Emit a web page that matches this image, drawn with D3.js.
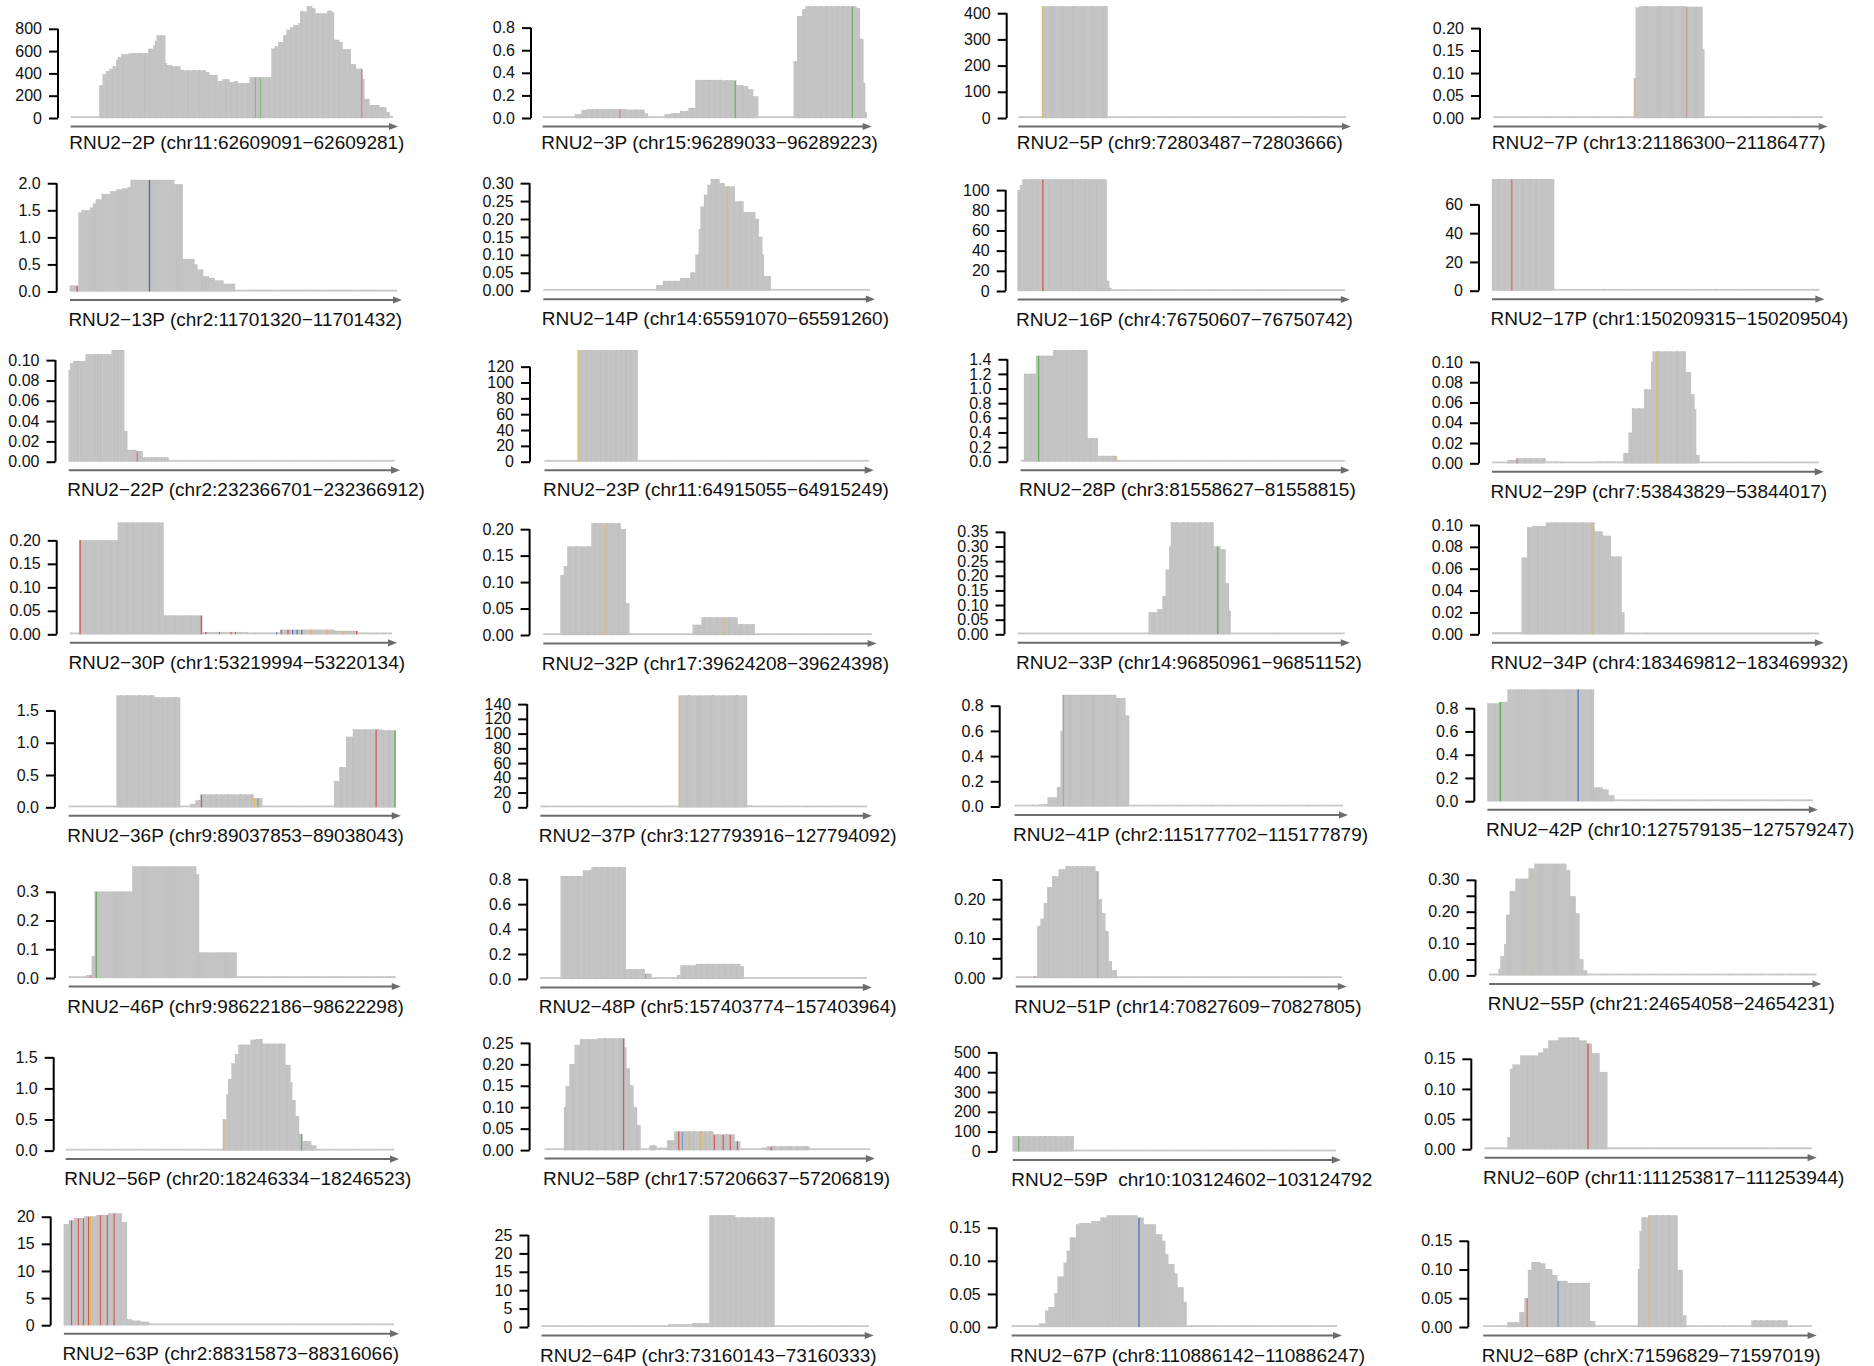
<!DOCTYPE html>
<html>
<head>
<meta charset="utf-8">
<script src="https://cdn.jsdelivr.net/npm/d3@7"></script>
<style>
  body { margin: 0; background: #fff; }
  svg text { font-family: "Liberation Sans", Arial, Helvetica, sans-serif; fill: #111; }
</style>
</head>
<body>
<svg id="chart" width="1874" height="1366"></svg>
<script>
// Read coverage of RNU2 pseudogenes, one small track per locus.

const geneNames = [
  "RNU2-2P", "RNU2-3P", "RNU2-5P", "RNU2-7P",
  "RNU2-13P", "RNU2-14P", "RNU2-16P", "RNU2-17P",
  "RNU2-22P", "RNU2-23P", "RNU2-28P", "RNU2-29P",
  "RNU2-30P", "RNU2-32P", "RNU2-33P", "RNU2-34P",
  "RNU2-36P", "RNU2-37P", "RNU2-41P", "RNU2-42P",
  "RNU2-46P", "RNU2-48P", "RNU2-51P", "RNU2-55P",
  "RNU2-56P", "RNU2-58P", "RNU2-59P", "RNU2-60P",
  "RNU2-63P", "RNU2-64P", "RNU2-67P", "RNU2-68P"
];

const regionLabels = [
  "(chr11:62609091-62609281)", "(chr15:96289033-96289223)", "(chr9:72803487-72803666)", "(chr13:21186300-21186477)",
  "(chr2:11701320-11701432)", "(chr14:65591070-65591260)", "(chr4:76750607-76750742)", "(chr1:150209315-150209504)",
  "(chr2:232366701-232366912)", "(chr11:64915055-64915249)", "(chr3:81558627-81558815)", "(chr7:53843829-53844017)",
  "(chr1:53219994-53220134)", "(chr17:39624208-39624398)", "(chr14:96850961-96851152)", "(chr4:183469812-183469932)",
  "(chr9:89037853-89038043)", "(chr3:127793916-127794092)", "(chr2:115177702-115177879)", "(chr10:127579135-127579247)",
  "(chr9:98622186-98622298)", "(chr5:157403774-157403964)", "(chr14:70827609-70827805)", "(chr21:24654058-24654231)",
  "(chr20:18246334-18246523)", "(chr17:57206637-57206819)", " chr10:103124602-103124792", "(chr11:111253817-111253944)",
  "(chr2:88315873-88316066)", "(chr3:73160143-73160333)", "(chr8:110886142-110886247)", "(chrX:71596829-71597019)"
];

// Upper limit of each y axis
const yLimits = [
  1000, 0.987, 425.6, 0.248,
  2.06, 0.311, 110.5, 77.5,
  0.1098, 140.8, 1.524, 0.110,
  0.2374, 0.2107, 0.381, 0.102,
  1.727, 151.3, 0.885, 0.959,
  0.388, 0.895, 0.283, 0.35,
  1.793, 0.26, 563, 0.185,
  20.56, 30.3, 0.1685, 0.194
];

const yTicks = [
  [0, 200, 400, 600, 800], [0, 0.2, 0.4, 0.6, 0.8], [0, 100, 200, 300, 400], [0, 0.05, 0.1, 0.15, 0.2],
  [0, 0.5, 1, 1.5, 2], [0, 0.05, 0.1, 0.15, 0.2, 0.25, 0.3], [0, 20, 40, 60, 80, 100], [0, 20, 40, 60],
  [0, 0.02, 0.04, 0.06, 0.08, 0.1], [0, 20, 40, 60, 80, 100, 120], [0, 0.2, 0.4, 0.6, 0.8, 1, 1.2, 1.4], [0, 0.02, 0.04, 0.06, 0.08, 0.1],
  [0, 0.05, 0.1, 0.15, 0.2], [0, 0.05, 0.1, 0.15, 0.2], [0, 0.05, 0.1, 0.15, 0.2, 0.25, 0.3, 0.35], [0, 0.02, 0.04, 0.06, 0.08, 0.1],
  [0, 0.5, 1, 1.5], [0, 20, 40, 60, 80, 100, 120, 140], [0, 0.2, 0.4, 0.6, 0.8], [0, 0.2, 0.4, 0.6, 0.8],
  [0, 0.1, 0.2, 0.3], [0, 0.2, 0.4, 0.6, 0.8], [0, 0.05, 0.1, 0.15, 0.2, 0.25], [0, 0.05, 0.1, 0.15, 0.2, 0.25, 0.3],
  [0, 0.5, 1, 1.5], [0, 0.05, 0.1, 0.15, 0.2, 0.25], [0, 100, 200, 300, 400, 500], [0, 0.05, 0.1, 0.15],
  [0, 5, 10, 15, 20], [0, 5, 10, 15, 20, 25], [0, 0.05, 0.1, 0.15], [0, 0.05, 0.1, 0.15]
];

const yTickLabels = [
  ["0", "200", "400", "600", "800"], ["0.0", "0.2", "0.4", "0.6", "0.8"], ["0", "100", "200", "300", "400"], ["0.00", "0.05", "0.10", "0.15", "0.20"],
  ["0.0", "0.5", "1.0", "1.5", "2.0"], ["0.00", "0.05", "0.10", "0.15", "0.20", "0.25", "0.30"], ["0", "20", "40", "60", "80", "100"], ["0", "20", "40", "60"],
  ["0.00", "0.02", "0.04", "0.06", "0.08", "0.10"], ["0", "20", "40", "60", "80", "100", "120"], ["0.0", "0.2", "0.4", "0.6", "0.8", "1.0", "1.2", "1.4"], ["0.00", "0.02", "0.04", "0.06", "0.08", "0.10"],
  ["0.00", "0.05", "0.10", "0.15", "0.20"], ["0.00", "0.05", "0.10", "0.15", "0.20"], ["0.00", "0.05", "0.10", "0.15", "0.20", "0.25", "0.30", "0.35"], ["0.00", "0.02", "0.04", "0.06", "0.08", "0.10"],
  ["0.0", "0.5", "1.0", "1.5"], ["0", "20", "40", "60", "80", "100", "120", "140"], ["0.0", "0.2", "0.4", "0.6", "0.8"], ["0.0", "0.2", "0.4", "0.6", "0.8"],
  ["0.0", "0.1", "0.2", "0.3"], ["0.0", "0.2", "0.4", "0.6", "0.8"], ["0.00", "", "0.10", "", "0.20", ""], ["0.00", "", "0.10", "", "0.20", "", "0.30"],
  ["0.0", "0.5", "1.0", "1.5"], ["0.00", "0.05", "0.10", "0.15", "0.20", "0.25"], ["0", "100", "200", "300", "400", "500"], ["0.00", "0.05", "0.10", "0.15"],
  ["0", "5", "10", "15", "20"], ["0", "5", "10", "15", "20", "25"], ["0.00", "0.05", "0.10", "0.15"], ["0.00", "0.05", "0.10", "0.15"]
];

// Coverage as steps: [base offset where the level starts, level]
const coverage = [
  [[0,6],[8,10],[17,290],[19,390],[21,420],[23,440],[25,460],[27,520],[28,540],[30,570],[35,580],[46,620],[49,650],[50,690],[51,740],[56,490],[57,470],[60,460],[65,430],[67,425],[80,410],[82,385],[87,330],[90,345],[94,320],[97,330],[99,310],[106,362],[116,365],[119,620],[121,640],[123,680],[126,740],[128,790],[130,810],[132,830],[135,850],[136,955],[139,950],[140,1000],[143,980],[145,935],[152,960],[155,945],[156,700],[159,680],[161,615],[166,480],[169,440],[173,350],[174,170],[177,115],[183,95],[187,50],[189,20]],
  [[0,0.002],[10,0.01],[19,0.03],[23,0.07],[26,0.076],[50,0.072],[60,0.04],[62,0.002],[72,0.033],[76,0.04],[81,0.06],[86,0.088],[90,0.336],[106,0.33],[114,0.29],[118,0.28],[121,0.25],[124,0.19],[127,0.002],[148,0.5],[150,0.9],[153,0.96],[155,0.987],[185,0.97],[187,0.7],[189,0.31],[190,0.05]],
  [[0,0.5],[13,425.6],[49,2],[64,0.5]],
  [[0,0.001],[76,0.088],[77,0.245],[79,0.248],[104,0.247],[113,0.153],[114,0.001],[156,0.004],[176,0.001]],
  [[0,0.105],[3,1.455],[4,1.5],[7,1.55],[8,1.62],[9,1.7],[11,1.8],[14,1.85],[16,1.88],[18,1.9],[20,1.93],[21,2.06],[36,1.98],[39,0.6],[43,0.5],[44,0.4],[46,0.28],[48,0.25],[50,0.2],[53,0.14],[57,0.01]],
  [[0,0.002],[17,0.005],[42,0.002],[66,0.015],[70,0.027],[80,0.035],[86,0.05],[89,0.1],[91,0.17],[92,0.234],[94,0.267],[96,0.295],[98,0.311],[103,0.3],[106,0.29],[112,0.248],[117,0.219],[124,0.2],[126,0.15],[128,0.1],[129,0.04],[133,0.002],[164,0.005],[178,0.002]],
  [[0,100],[1,105],[2,110.5],[37,10],[38,3],[39,1]],
  [[0,77.5],[36,1.2],[47,0.3]],
  [[0,0.09],[1,0.097],[3,0.099],[11,0.1056],[28,0.1098],[36,0.03],[38,0.0115],[44,0.01],[48,0.0039],[65,0.0005]],
  [[0,0.5],[20,140.8],[56,0.3]],
  [[0,0],[2,1.2],[9,1.446],[19,1.524],[39,0.32],[45,0.078],[56,0.005]],
  [[0,0.001],[9,0.003],[14,0.0046],[31,0.002],[41,0.001],[60,0.002],[76,0.01],[79,0.03],[81,0.0538],[88,0.0726],[92,0.1],[93,0.11],[112,0.09],[115,0.068],[117,0.053],[118,0.008],[120,0.001]],
  [[0,0.001],[4,0.2],[21,0.2374],[41,0.0396],[58,0.005],[78,0.001],[80,0.004],[92,0.0094],[116,0.007],[126,0.004],[130,0.0005]],
  [[0,0.001],[10,0.113],[12,0.13],[14,0.1667],[28,0.2107],[45,0.2],[48,0.06],[50,0.001],[59,0.002],[76,0.001],[87,0.019],[92,0.033],[113,0.02],[123,0.001]],
  [[0,0.001],[31,0.003],[65,0.001],[77,0.075],[82,0.085],[85,0.13],[87,0.22],[89,0.3],[90,0.381],[115,0.299],[119,0.29],[122,0.174],[124,0.08],[125,0.001],[149,0.002],[166,0.001]],
  [[0,0.002],[11,0.07],[13,0.098],[15,0.099],[20,0.102],[38,0.094],[41,0.09],[44,0.071],[48,0.02],[49,0.001]],
  [[0,0.01],[28,1.727],[50,1.7],[65,0.005],[71,0.05],[74,0.1],[77,0.193],[108,0.14],[113,0.01],[147,0.02],[155,0.4],[158,0.62],[162,1.09],[166,1.2],[183,1.19]],
  [[0,0.5],[75,151.3],[112,3],[115,0.5]],
  [[0,0.002],[13,0.02],[18,0.07],[23,0.153],[25,0.6],[26,0.885],[55,0.86],[60,0.72],[62,0.01],[68,0.005],[87,0.002]],
  [[0,0.84],[4,0.853],[7,0.959],[37,0.1175],[40,0.1],[42,0.049],[44,0.002]],
  [[0,0.002],[6,0.01],[8,0.076],[9,0.3],[22,0.388],[44,0.36],[45,0.088],[58,0.001]],
  [[0,0.002],[12,0.825],[25,0.87],[30,0.895],[50,0.077],[61,0.04],[65,0.01],[66,0.002],[80,0.03],[82,0.105],[91,0.119],[117,0.1],[119,0.002],[152,0.0105],[176,0.001]],
  [[0,0.002],[10,0.005],[13,0.13],[15,0.15],[17,0.19],[19,0.23],[22,0.257],[26,0.275],[30,0.283],[48,0.27],[50,0.2],[52,0.164],[54,0.119],[56,0.042],[58,0.02],[61,0.001]],
  [[0,0.002],[5,0.02],[6,0.06],[8,0.098],[9,0.19],[11,0.264],[14,0.303],[21,0.335],[24,0.35],[41,0.33],[43,0.248],[46,0.194],[48,0.05],[50,0.015],[52,0.002]],
  [[0,0.005],[91,0.5],[93,0.9],[94,1.15],[96,1.4],[98,1.55],[100,1.7],[107,1.78],[110,1.793],[114,1.716],[127,1.375],[130,1.1],[131,0.81],[133,0.55],[135,0.265],[137,0.147],[142,0.08],[145,0.005]],
  [[0,0.002],[11,0.1],[12,0.149],[14,0.2],[17,0.245],[20,0.258],[30,0.26],[45,0.24],[46,0.19],[48,0.15],[50,0.1],[52,0.058],[54,0.004],[59,0.01],[63,0.006],[69,0.022],[73,0.0427],[95,0.0356],[107,0.02],[110,0.002],[122,0.006],[125,0.008],[149,0.004],[159,0.001]],
  [[0,76],[36,5],[39,1]],
  [[0,0.002],[9,0.02],[10,0.133],[11,0.14],[14,0.155],[21,0.16],[23,0.167],[25,0.18],[29,0.185],[37,0.18],[40,0.175],[42,0.159],[45,0.128],[48,0.002]],
  [[0,18.6],[3,19.3],[6,19.7],[12,20],[19,20.3],[26,20.56],[34,19],[37,1.04],[40,0.8],[45,0.6],[50,0.3],[62,0.1]],
  [[0,0.2],[53,0.5],[74,0.8],[88,1.0],[98,30.3],[113,29.7],[136,0.1]],
  [[0,0.001],[9,0.005],[11,0.0245],[12,0.03],[14,0.051],[15,0.076],[17,0.097],[18,0.115],[19,0.135],[21,0.155],[22,0.157],[26,0.16],[29,0.165],[31,0.1685],[41,0.165],[43,0.155],[47,0.14],[49,0.13],[50,0.11],[51,0.095],[53,0.0806],[54,0.06],[56,0.0377],[57,0.001]],
  [[0,0.002],[14,0.008],[21,0.0255],[24,0.05],[26,0.099],[28,0.1125],[33,0.11],[36,0.1],[40,0.09],[43,0.08],[49,0.0765],[62,0.01],[65,0.002],[90,0.1],[91,0.1665],[92,0.19],[96,0.194],[113,0.099],[116,0.02],[118,0.003],[156,0.011],[177,0.001]]
];

// Mismatched bases: [base offset, base, strength]
const mismatches = [
  [[109,"A",0.5],[112,"A",0.5],[172,"T",0.5]],
  [[45,"T",0.5],[113,"A",0.8],[182,"A",0.8]],
  [[13,"G",0.7]],
  [[76,"G",0.35],[104,"T",0.35]],
  [[2,"T",1],[27,"C",1]],
  [[107,"G",0.35]],
  [[10,"T",0.9]],
  [[11,"T",0.7]],
  [[44,"T",0.6]],
  [[20,"G",0.6]],
  [[10,"A",0.9],[55,"G",0.9]],
  [[95,"G",0.9],[14,"T",0.5]],
  [[4,"T",0.9],[57,"T",0.9],[59,"T",0.9],[65,"T",0.9],[70,"T",0.9],[72,"T",0.9],[90,"C",0.9],[92,"T",0.9],[95,"T",0.9],[97,"C",0.9],[99,"C",0.9],[101,"C",0.9],[105,"G",0.9],[112,"G",0.9],[119,"G",0.9],[125,"T",0.9]],
  [[35,"G",0.5],[105,"G",0.35]],
  [[117,"A",0.9]],
  [[37,"G",1]],
  [[77,"T",0.9],[108,"G",0.7],[110,"A",0.7],[179,"T",0.9],[190,"A",0.9]],
  [[75,"G",0.7]],
  [[26,"A",0.5]],
  [[4,"A",1],[31,"C",1]],
  [[9,"A",1],[7,"T",0.5]],
  [[61,"T",0.4]],
  [[49,"A",0.4],[11,"T",0.4]],
  [[22,"G",0.4]],
  [[91,"G",0.8],[136,"A",0.8]],
  [[44,"T",0.9],[75,"T",0.9],[77,"C",0.5],[81,"G",0.9],[87,"G",0.9],[90,"G",0.7],[95,"T",0.9],[100,"T",0.9],[104,"T",0.9],[108,"T",0.9],[127,"T",0.9]],
  [[3,"A",0.8]],
  [[40,"T",1]],
  [[4,"T",0.85],[8,"T",0.85],[11,"T",0.85],[14,"T",0.85],[15,"G",0.85],[21,"T",0.85],[25,"T",0.85],[29,"T",0.85]],
  [],
  [[41,"C",1]],
  [[25,"T",0.6],[43,"C",0.5],[96,"G",0.7]]
];

// Track frames: [y-axis x, track left, track right, zero line y]
const frames = [
  [58, 70.7, 393, 118], [531, 542.7, 866.7, 118], [1006.7, 1018.3, 1346, 118], [1480, 1493.3, 1822.7, 118],
  [56.7, 69.9, 397, 291.5], [529.6, 543.3, 869.9, 290.7], [1005.7, 1017.6, 1344.8, 291], [1479, 1492, 1819.4, 290.7],
  [55.5, 68.7, 395, 461.7], [530, 544.5, 868.7, 461.7], [1007.4, 1020.6, 1344.8, 461.7], [1479, 1492, 1818.8, 463.3],
  [56.7, 69.9, 392, 634.3], [529.6, 543.3, 871.6, 635], [1004.5, 1017.6, 1344.8, 634.3], [1479, 1492, 1818.8, 634.3],
  [54.9, 68.7, 395.8, 807.3], [527.2, 540.3, 866.9, 807.3], [999.7, 1014.6, 1343, 806.5], [1474.3, 1487.4, 1812.8, 801.2],
  [54.9, 68.7, 395.8, 978], [527.2, 540.3, 866.9, 978.9], [1001.5, 1015.8, 1341.8, 978], [1475.5, 1489.2, 1816.4, 975.4],
  [53.7, 65.7, 394, 1150.6], [529.6, 544.5, 869.9, 1150.1], [996.7, 1012.8, 1335.8, 1151.4], [1471.3, 1484.5, 1811.6, 1149.2],
  [50.7, 63.9, 394, 1325.2], [528.4, 541.5, 868.7, 1327], [996.7, 1011.6, 1337, 1327], [1468.3, 1483.3, 1811.6, 1327]
];

const trackHeight = 111.5;
const baseColors = { A: "#55a84a", C: "#3d6cc4", G: "#ecb935", T: "#d24a47" };
const barFill = "#c4c4c4";
const barEdge = "#b8b8b8";
const arrowColor = "#6c6c6c";

const svg = d3.select("#chart");

geneNames.forEach((name, i) => {
  const [axisX, left, right, zeroY] = frames[i];
  const row = Math.floor(i / 4);
  const m = regionLabels[i].match(/:(\d+)-(\d+)/);
  const start = +m[1], end = +m[2];
  const n = end - start + 1;

  // expand the step levels into one value per base
  const steps = coverage[i];
  const perBase = d3.range(n).map(k => {
    let v = 0;
    for (const [off, val] of steps) { if (off <= k) v = val; else break; }
    return { pos: start + k, value: v };
  });

  const x = d3.scaleLinear().domain([start, end + 1]).range([left, right]);
  const y = d3.scaleLinear().domain([0, yLimits[i]]).range([zeroY, zeroY - trackHeight]);
  const topOf = v => Math.min(y(v), zeroY - 1.8);

  const g = svg.append("g").attr("class", "track");

  // coverage bars; the thinnest ones merge into a plain baseline
  g.append("g").selectAll("rect").data(perBase).join("rect")
    .attr("x", d => x(d.pos))
    .attr("width", d => x(d.pos + 1) - x(d.pos) + 0.05)
    .attr("y", d => topOf(d.value))
    .attr("height", d => zeroY - topOf(d.value))
    .attr("fill", barFill)
    .attr("stroke", d => (zeroY - topOf(d.value)) > 3 ? barEdge : "none")
    .attr("stroke-width", 0.3);

  // mismatch columns
  g.append("g").selectAll("rect").data(mismatches[i]).join("rect")
    .attr("x", d => (x(start + d[0]) + x(start + d[0] + 1)) / 2 - 0.6)
    .attr("width", 1.2)
    .attr("y", d => topOf(perBase[d[0]].value))
    .attr("height", d => zeroY - topOf(perBase[d[0]].value))
    .attr("fill", d => baseColors[d[1]])
    .attr("opacity", d => d[2]);

  // y axis, line spanning the ticks only
  const ticks = yTicks[i];
  const labels = yTickLabels[i];
  const axis = d3.axisLeft(y)
    .tickValues(ticks)
    .tickSize(9)
    .tickSizeOuter(0)
    .tickPadding(7)
    .tickFormat((d, k) => labels[k]);
  const ag = g.append("g").attr("transform", `translate(${axisX},0)`).call(axis);
  ag.select(".domain")
    .attr("d", `M0,${y(ticks[0])}V${y(ticks[ticks.length - 1])}`)
    .attr("stroke", "#000").attr("stroke-width", 2);
  ag.selectAll(".tick line").attr("stroke", "#000").attr("stroke-width", 2);
  ag.selectAll(".tick text").attr("font-size", 16).attr("fill", "#111")
    .attr("font-family", "'Liberation Sans', Arial, sans-serif");

  // genomic direction arrow
  const ay = zeroY + 8.5;
  const tip = right + 5;
  g.append("line")
    .attr("x1", left).attr("x2", tip - 7).attr("y1", ay).attr("y2", ay)
    .attr("stroke", arrowColor).attr("stroke-width", 2);
  g.append("path")
    .attr("d", `M${tip},${ay}L${tip - 9},${ay - 3.6}L${tip - 9},${ay + 3.6}Z`)
    .attr("fill", arrowColor);

  // locus label
  g.append("text")
    .attr("x", left - 1.5)
    .attr("y", zeroY + (row === 0 ? 30.5 : 34.5))
    .attr("font-size", 19)
    .style("white-space", "pre")
    .text((name + " " + regionLabels[i]).replace(/-/g, "\u2212"));
});
</script>
</body>
</html>
